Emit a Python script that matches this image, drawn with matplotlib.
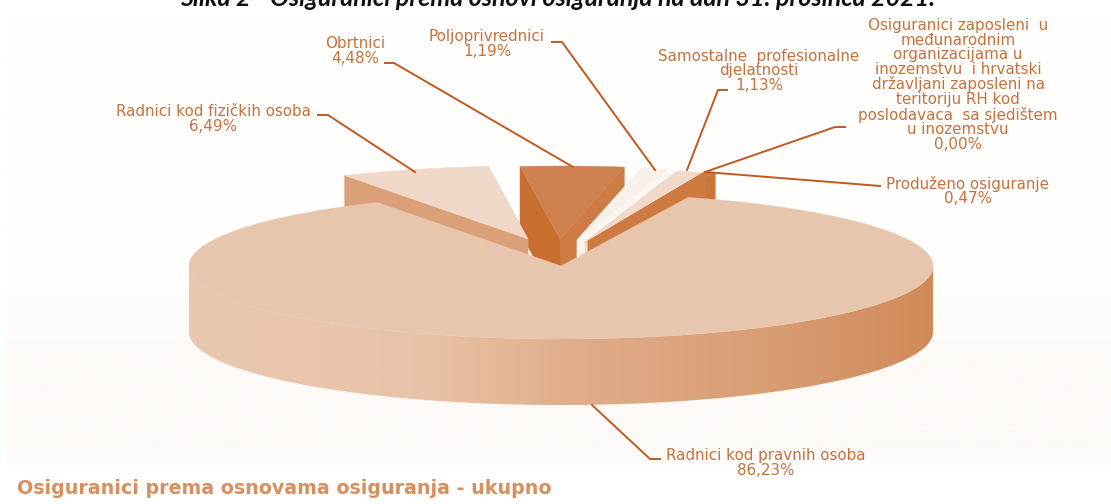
import numpy as np
import matplotlib
matplotlib.use("Agg")
import matplotlib.pyplot as plt
from matplotlib.patches import Polygon
from matplotlib.colors import LinearSegmentedColormap

# ---- data ----
labels = ["Radnici kod pravnih osoba", "Radnici kod fizičkih osoba", "Obrtnici", "Poljoprivrednici",
          "Samostalne  profesionalne\ndjelatnosti",
          "Osiguranici zaposleni  u\nmeđunarodnim\norganizacijama u\ninozemstvu  i hrvatski\ndržavljani zaposleni na\nteritoriju RH kod\nposlodavaca  sa sjedištem\nu inozemstvu",
          "Produženo osiguranje"]
values = [86.23, 6.49, 4.48, 1.19, 1.13, 0.00, 0.47]
value_texts = ["86,23%", "6,49%", "4,48%", "1,19%", "1,13%", "0,00%", "0,47%"]
title_top = "Slika 2 - Osiguranici prema osnovi osiguranja na dan 31. prosinca 2021."
title_bottom = "Osiguranici prema osnovama osiguranja - ukupno"

# ---- layout / style ----
W, H = 1111, 504
cx, cy, ra, rb, thick = 561, 266, 372, 73, 66
start_deg = 70.0
apex_shift = [(0, 0), (-33, -27), (-1, -27), (16, -26), (24, -24), (27, -25), (27, -25)]
top_col = ["#E8C5AD", "#F0D8C8", "#CF8250", "#F8F1EB", "#F0D9C9", "#CE7A40", "#CE7A40"]
hi_col = ["#E8C5AD", "#DCA078", "#CC7C44", "#FBF6F2", "#F0D9C9", "#CB773A", "#CB773A"]
lo_col = ["#E8C5AD", "#DCA078", "#C86E2E", "#FBF6F2", "#F0D9C9", "#CE7A40", "#CE7A40"]
draw_order = [2, 3, 4, 6, 1]
label_pos = [(766, 463), (213, 119), (355, 51), (487, 44), (759, 71), (958, 85), (968, 191)]
leaders = [[(660, 459), (650, 459), (592, 405)],
           [(318, 115), (328, 115), (415, 172)],
           [(385, 63), (394, 63), (573, 167)],
           [(552, 42), (562, 42), (655, 170)],
           [(727, 90), (718, 90), (687, 170)],
           [(845, 127), (835, 127), (705, 172)],
           [(880, 186), (868, 185), (705, 172)]]
txt_col = "#C5723C"
line_col = "#BE5A20"

fig = plt.figure(figsize=(W / 100, H / 100), dpi=100)
ax = fig.add_axes([0, 0, 1, 1])

# faint backdrop
bg = LinearSegmentedColormap.from_list(
    "bg", [(0, "#FFFFFF"), (0.02, "#FFFEFE"), (0.6, "#FFFEFD"), (0.74, "#FDF9F6"),
           (0.94, "#FDF9F6"), (1, "#FFFFFF")])
ax.imshow(np.linspace(0, 1, 256).reshape(-1, 1), cmap=bg, extent=[7, W, 470, 14],
          aspect="auto", zorder=0)

# angles from values, running clockwise
sweeps = np.array(values) / sum(values) * 360.0
ends = start_deg - np.cumsum(sweeps)
starts = ends + sweeps


def arc(th0, th1, ox, oy, n=80):
    t = np.radians(np.linspace(th0, th1, n))
    return np.column_stack([ox + ra * np.cos(t), oy - rb * np.sin(t)])


def down(p):
    return p + np.array([0, thick])


# exploded slices: cut faces first, then the top
for i in draw_order:
    dx, dy = apex_shift[i]
    ox, oy = cx + dx, cy + dy
    apex = np.array([ox, oy], float)
    a = arc(starts[i], ends[i], ox, oy)
    for corner, col in ((a[-1], hi_col[i]), (a[0], lo_col[i])):
        ax.add_patch(Polygon([corner, apex, down(apex), down(corner)], closed=True,
                             fc=col, ec=col, lw=0.3, zorder=3))
    ax.add_patch(Polygon(np.vstack([apex, a]), closed=True, fc=top_col[i],
                         ec=top_col[i], lw=0.3, zorder=3))

# main slice: outer wall with horizontal gradient, then top
front = arc(180, 360, cx, cy, 200)
wall = np.vstack([front, down(front)[::-1]])
wall_patch = Polygon(wall, closed=True, fc="none", ec="none")
ax.add_patch(wall_patch)
wall_cmap = LinearSegmentedColormap.from_list(
    "wall", [(0, "#E9C8B0"), (0.3, "#E9C3A9"), (0.55, "#DFAB86"), (0.8, "#D89C72"), (1, "#D08A58")])
im = ax.imshow(np.linspace(0, 1, 512).reshape(1, -1), cmap=wall_cmap,
               extent=[cx - ra, cx + ra, cy + rb + thick, cy], aspect="auto", zorder=4)
im.set_clip_path(wall_patch)

main_arc = arc(starts[0], ends[0], cx, cy, 400)
ax.add_patch(Polygon(np.vstack([[cx, cy], main_arc]), closed=True, fc=top_col[0],
                     ec=top_col[0], lw=0.3, zorder=5))

# leader lines
for pts in leaders:
    xs, ys = zip(*pts)
    ax.plot(xs, ys, color=line_col, lw=1.4, zorder=6, solid_joinstyle="miter")

# labels
for name, val, (x, y) in zip(labels, value_texts, label_pos):
    ax.text(x, y, f"{name}\n{val}", ha="center", va="center", fontsize=10.9,
            family="DejaVu Sans", color=txt_col, linespacing=0.97, zorder=7)

ax.text(17, 489, title_bottom, ha="left", va="center", fontsize=13.7, fontweight="bold",
        family="DejaVu Sans", color="#D98E5E", zorder=7)
ax.text(558, 6, title_top, ha="center", va="baseline", fontsize=18, fontweight="bold",
        style="italic", family="Lato", color="#111111", zorder=7)

ax.set_xlim(0, W)
ax.set_ylim(H, 0)
ax.axis("off")
fig.savefig("out.png", dpi=100)
